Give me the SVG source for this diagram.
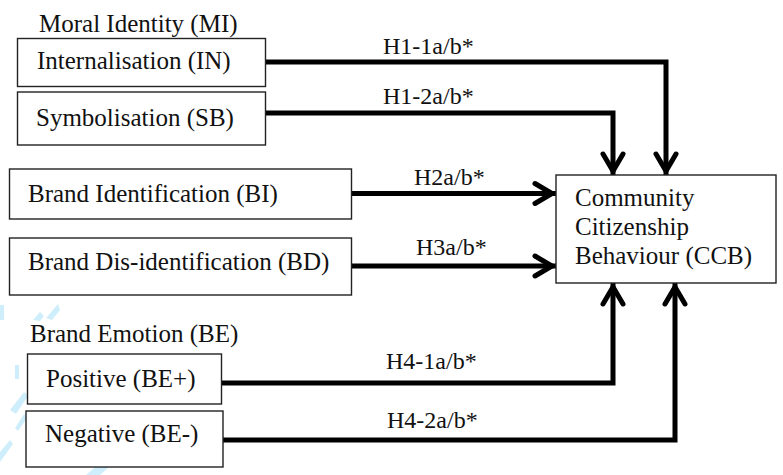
<svg xmlns="http://www.w3.org/2000/svg" width="783" height="475" viewBox="0 0 783 475">
<style>
  .bg { fill: #ffffff; }
  .box { fill: #ffffff; stroke: #222222; stroke-width: 1.4; }
  .t { font-size: 25px; fill: #111111; }
  .lbl { font-size: 24px; fill: #111111; }
  .conn { fill: none; stroke: #000000; stroke-width: 5; stroke-linejoin: miter; stroke-linecap: butt; marker-end: url(#arrow); }
  .wm { fill: #cfeefb; }
</style>
<defs>
  <marker id="arrow" markerUnits="userSpaceOnUse" viewBox="-26 -16 32 32" markerWidth="32" markerHeight="32" refX="0" refY="0" orient="auto">
    <path d="M-21,-10 L-4,0 L-21,10" fill="none" stroke="#000000" stroke-width="5" stroke-linecap="round" stroke-linejoin="miter" stroke-miterlimit="10"/>
  </marker>
</defs>
<rect class="bg" x="0" y="0" width="783" height="475"/>

<g id="watermark">
  <polygon class="wm" points="46,318 58,304 60,310 52,320"/>
  <polygon class="wm" points="0,305 4,305 4,320 0,320"/>
  <polygon class="wm" points="33,320 40,312 44,316 40,321"/>
  <polygon class="wm" points="15,365 19,365 19,379 15,379"/>
  <polygon class="wm" points="10,410 24,392 28,396 16,414"/>
  <polygon class="wm" points="15,428 24,414 27,418 18,431"/>
  <polygon class="wm" points="0,452 10,440 13,444 0,462"/>
  <polygon class="wm" points="86,475 100,463 110,466 100,475"/>
</g>

<g font-family="Liberation Serif, DejaVu Serif, serif">
<g id="connectors">
  <path class="conn" d="M266,62 H666 V175"/>
  <path class="conn" d="M266,113 H613 V175"/>
  <path class="conn" d="M352,193.5 H556"/>
  <path class="conn" d="M352,266 H556"/>
  <path class="conn" d="M222,383 H613 V283"/>
  <path class="conn" d="M223,440 H675 V283"/>
  <text class="lbl" x="383" y="54">H1-1a/b*</text>
  <text class="lbl" x="383" y="104">H1-2a/b*</text>
  <text class="lbl" x="414" y="185">H2a/b*</text>
  <text class="lbl" x="416" y="255">H3a/b*</text>
  <text class="lbl" x="386" y="369">H4-1a/b*</text>
  <text class="lbl" x="387" y="428">H4-2a/b*</text>
</g>

<g id="MI">
  <text class="t" x="39" y="32">Moral Identity (MI)</text>
</g>
<g id="IN">
  <rect class="box" x="17.5" y="38.5" width="248" height="48"/>
  <text class="t" x="37" y="69">Internalisation (IN)</text>
</g>
<g id="SB">
  <rect class="box" x="17.5" y="92" width="248" height="53"/>
  <text class="t" x="36" y="126">Symbolisation (SB)</text>
</g>
<g id="BI">
  <rect class="box" x="9.5" y="169" width="342" height="50"/>
  <text class="t" x="28" y="202">Brand Identification (BI)</text>
</g>
<g id="BD">
  <rect class="box" x="9.5" y="238" width="342" height="57"/>
  <text class="t" x="28" y="270">Brand Dis-identification (BD)</text>
</g>
<g id="BE">
  <text class="t" x="30" y="342">Brand Emotion (BE)</text>
</g>
<g id="BEpos">
  <rect class="box" x="27.5" y="354" width="194" height="50"/>
  <text class="t" x="46" y="387">Positive (BE+)</text>
</g>
<g id="BEneg">
  <rect class="box" x="26" y="411" width="197" height="56"/>
  <text class="t" x="45" y="442">Negative (BE-)</text>
</g>
<g id="CCB">
  <rect class="box" x="556" y="175" width="220" height="108"/>
  <text class="t" x="575" y="206">Community</text>
  <text class="t" x="575" y="235">Citizenship</text>
  <text class="t" x="575" y="264">Behaviour (CCB)</text>
</g>
</g>
</svg>
